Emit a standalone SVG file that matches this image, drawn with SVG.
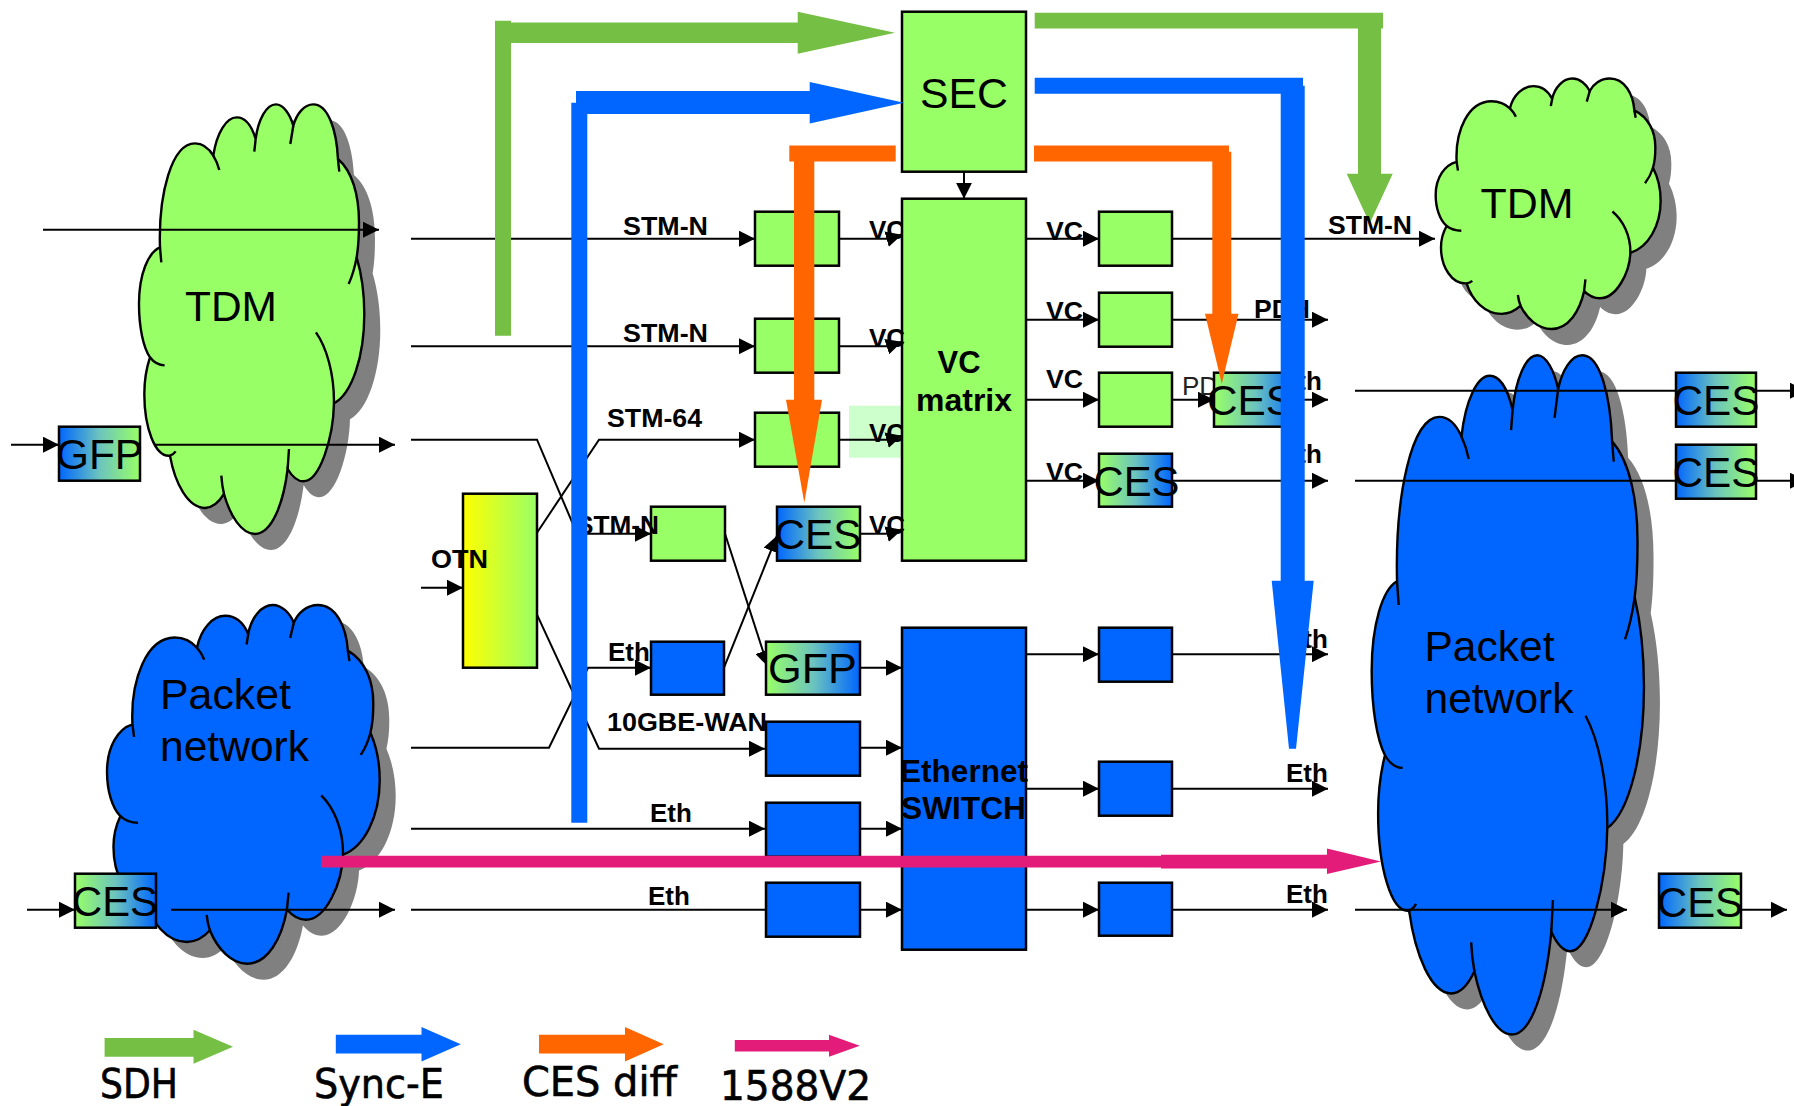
<svg xmlns="http://www.w3.org/2000/svg" width="1794" height="1106" viewBox="0 0 1794 1106">
<style>
text{font-family:"Liberation Sans",Arial,sans-serif;fill:#000}
.big{font-size:42px}
.b{font-size:26px;font-weight:bold}
.sw{font-size:31px;font-weight:bold}
.r{font-size:26px;fill:#222}
.leg{font-family:"DejaVu Sans","Noto Sans",sans-serif;font-size:40px;stroke:#000;stroke-width:.6}
.ln{fill:none;stroke:#000;stroke-width:2}
.a{marker-end:url(#arr)}
.box{stroke:#000;stroke-width:2.5}
.g{fill:#99FF66}
.bl{fill:#0066FF}
.shadow{fill:#808080}
.cl{stroke:#000;stroke-width:2.4}
.sd{fill:#74BF44}
.sy{fill:#0066FF}
.ce{fill:#FF6600}
.pt{fill:#E31C79}
</style>
<defs>
<marker id="arr" markerUnits="userSpaceOnUse" markerWidth="16" markerHeight="16" refX="16" refY="8" orient="auto"><path d="M0,0L16,8L0,16Z" fill="#000"/></marker>
<linearGradient id="bg"><stop offset="0" stop-color="#0066FF"/><stop offset=".5" stop-color="#6CC4BE"/><stop offset="1" stop-color="#99FF66"/></linearGradient>
<linearGradient id="gb"><stop offset="0" stop-color="#99FF66"/><stop offset=".5" stop-color="#6CC4BE"/><stop offset="1" stop-color="#0066FF"/></linearGradient>
<linearGradient id="yg"><stop offset="0" stop-color="#FFFF00"/><stop offset="1" stop-color="#99FF66"/></linearGradient>
<path id="cloud" vector-effect="non-scaling-stroke" d="M480,560C475,400 515,248 585,248C610,248 628,265 640,285C650,215 680,170 710,170C735,170 755,195 767,235C775,175 800,131 828,131C850,131 870,160 880,195C890,160 912,131 940,131C985,131 1010,210 1014,295C1055,330 1078,400 1077,490C1077,530 1075,560 1070,590C1085,640 1093,700 1093,760C1093,890 1055,1000 1002,1028C1000,1130 960,1262 910,1262C890,1262 875,1245 863,1225C850,1330 815,1420 765,1420C725,1420 690,1365 672,1300C655,1328 635,1342 615,1342C565,1342 525,1270 510,1185C465,1190 433,1100 433,1000C433,960 440,920 450,890C430,860 417,800 417,730C417,640 445,575 480,560Z"/>
<path id="folds" vector-effect="non-scaling-stroke" fill="none" d="M480,560L484,605M640,285Q652,305 658,328M767,235L763,273M880,195L871,250M1014,295L1018,333M1070,590Q1062,635 1046,670M948,815C980,860 1003,940 1002,1028M863,1225L867,1165M672,1300Q666,1275 664,1245M510,1185Q520,1182 527,1172M450,890Q468,914 494,914"/>
</defs>
<g transform="translate(0 .7)">
<g id="cloud-tdm-left">
<use href="#cloud" class="shadow" transform="matrix(.3333 0 0 .3333 16 76)"/>
<use href="#cloud" class="g cl" transform="matrix(.3333 0 0 .3333 0 60)"/>
<use href="#folds" class="cl" transform="matrix(.3333 0 0 .3333 0 60)"/>
<text class="big" x="185" y="320.5" textLength="92" lengthAdjust="spacingAndGlyphs">TDM</text>
</g>
<g id="cloud-packet-left">
<use href="#cloud" class="shadow" transform="matrix(.4034 0 0 .2783 -45.2 583.8)"/>
<use href="#cloud" class="bl cl" transform="matrix(.4034 0 0 .2783 -61.2 567.8)"/>
<use href="#folds" class="cl" transform="matrix(.4034 0 0 .2783 -61.2 567.8)"/>
<text class="big" x="160" y="708" textLength="131" lengthAdjust="spacingAndGlyphs">Packet</text>
<text class="big" x="160" y="760" textLength="149" lengthAdjust="spacingAndGlyphs">network</text>
</g>
<g id="cloud-tdm-right">
<use href="#cloud" class="shadow" transform="matrix(.3328 0 0 .1943 1312.9 68.4)"/>
<use href="#cloud" class="g cl" transform="matrix(.3328 0 0 .1943 1296.9 52.4)"/>
<use href="#folds" class="cl" transform="matrix(.3328 0 0 .1943 1296.9 52.4)"/>
<text class="big" x="1480.5" y="217" textLength="93" lengthAdjust="spacingAndGlyphs">TDM</text>
</g>
<g id="cloud-packet-right">
<use href="#cloud" class="shadow" transform="matrix(.4028 0 0 .527 1219.7 301.5)"/>
<use href="#cloud" class="bl cl" transform="matrix(.4028 0 0 .527 1203.7 285.5)"/>
<use href="#folds" class="cl" transform="matrix(.4028 0 0 .527 1203.7 285.5)"/>
<text class="big" x="1424.5" y="660" textLength="130" lengthAdjust="spacingAndGlyphs">Packet</text>
<text class="big" x="1424.5" y="712" textLength="149" lengthAdjust="spacingAndGlyphs">network</text>
</g>

<rect id="highlight" x="849" y="405" width="53" height="52" fill="#CCFFCC"/>

<g id="connectors">
<path class="ln a" d="M43,229H379"/>
<path class="ln a" d="M11,444H59"/>
<path class="ln a" d="M154,444H395"/>
<path class="ln a" d="M27,909H75"/>
<path class="ln a" d="M171,909H395"/>
<path class="ln a" d="M411,238H755"/>
<path class="ln a" d="M411,345.5H755"/>
<path class="ln a" d="M411,439H537L577,533H651"/>
<path class="ln a" d="M537,532L599,439H755"/>
<path class="ln a" d="M537,614L599,748H765"/>
<path class="ln a" d="M411,747H549L588,667H651"/>
<path class="ln a" d="M411,828H765"/>
<path class="ln" d="M411,909H766"/>
<path class="ln a" d="M421,587H463"/>
<path class="ln a" d="M725,533L768,666"/>
<path class="ln a" d="M724,667L777,535"/>
<path class="ln a" d="M964,171V198"/>
<path class="ln a" d="M839,238H888L902,234"/>
<path class="ln a" d="M839,345.5H888L902,341"/>
<path class="ln a" d="M839,439H888L902,435"/>
<path class="ln a" d="M860,533H888L902,529"/>
<path class="ln a" d="M860,667H902"/>
<path class="ln a" d="M860,747H902"/>
<path class="ln a" d="M860,828H902"/>
<path class="ln a" d="M860,909H902"/>
<path class="ln a" d="M1026,238H1099"/>
<path class="ln a" d="M1026,319H1099"/>
<path class="ln a" d="M1026,399H1099"/>
<path class="ln a" d="M1026,480H1099"/>
<path class="ln a" d="M1027,653.5H1099"/>
<path class="ln a" d="M1027,788H1099"/>
<path class="ln a" d="M1027,909H1099"/>
<path class="ln a" d="M1172,238H1435"/>
<path class="ln a" d="M1172,319H1328"/>
<path class="ln a" d="M1172,399H1214"/>
<path class="ln a" d="M1297,399H1328"/>
<path class="ln a" d="M1172,480H1328"/>
<path class="ln a" d="M1172,653.5H1328"/>
<path class="ln a" d="M1172,788H1328"/>
<path class="ln a" d="M1172,909H1328"/>
<path class="ln a" d="M1355,390H1806"/>
<path class="ln a" d="M1355,480H1806"/>
<path class="ln a" d="M1355,909H1627"/>
<path class="ln a" d="M1741,909H1787"/>
</g>

<g id="labels-under">
<text class="b" x="869" y="238">VC</text>
<text class="b" x="869" y="441">VC</text>
<text class="r" x="1182" y="394">PDH</text>
</g>

<g id="node-sec"><rect class="box g" x="902" y="11" width="124" height="160"/>
<text class="big" x="920" y="107" textLength="88" lengthAdjust="spacingAndGlyphs">SEC</text></g>
<g id="node-vc-matrix"><rect class="box g" x="902" y="198" width="124" height="362"/>
<text class="sw" x="959" y="372.5" text-anchor="middle">VC</text>
<text class="sw" x="964" y="410.5" text-anchor="middle" textLength="96" lengthAdjust="spacingAndGlyphs">matrix</text></g>
<g id="node-switch"><rect class="box bl" x="902" y="627" width="124" height="322"/>
<text class="sw" x="900" y="781" textLength="128" lengthAdjust="spacingAndGlyphs">Ethernet</text>
<text class="sw" x="901" y="818" textLength="125" lengthAdjust="spacingAndGlyphs">SWITCH</text></g>
<g id="node-otn"><rect class="box" fill="url(#yg)" x="463" y="493" width="74" height="174"/></g>

<g id="node-in1"><rect class="box g" x="755" y="211" width="84" height="54"/></g>
<g id="node-in2"><rect class="box g" x="755" y="318" width="84" height="54"/></g>
<g id="node-in3"><rect class="box g" x="755" y="412" width="84" height="54"/></g>
<g id="node-in4"><rect class="box g" x="651" y="506" width="74" height="54"/></g>
<g id="node-ces-in"><rect class="box" fill="url(#bg)" x="777" y="506" width="83" height="54"/>
<text class="big" x="774.5" y="548" textLength="87" lengthAdjust="spacingAndGlyphs">CES</text></g>
<g id="node-eth-in"><rect class="box bl" x="651" y="641" width="73" height="53"/></g>
<g id="node-gfp-in"><rect class="box" fill="url(#gb)" x="766" y="641" width="94" height="53"/>
<text class="big" x="768" y="682" textLength="89" lengthAdjust="spacingAndGlyphs">GFP</text></g>
<g id="node-wan"><rect class="box bl" x="766" y="721" width="94" height="54"/></g>
<g id="node-eth2"><rect class="box bl" x="766" y="802" width="94" height="54"/></g>
<g id="node-eth3"><rect class="box bl" x="766" y="882" width="94" height="54"/></g>

<g id="node-out1"><rect class="box g" x="1099" y="211" width="73" height="54"/></g>
<g id="node-out2"><rect class="box g" x="1099" y="292" width="73" height="54"/></g>
<g id="node-out3"><rect class="box g" x="1099" y="372" width="73" height="54"/></g>
<g id="node-out4"><rect class="box" fill="url(#gb)" x="1099" y="453" width="73" height="53"/>
<text class="big" x="1093.5" y="495" textLength="86" lengthAdjust="spacingAndGlyphs">CES</text></g>
<g id="node-out5"><rect class="box bl" x="1099" y="627" width="73" height="54"/></g>
<g id="node-out6"><rect class="box bl" x="1099" y="761" width="73" height="54"/></g>
<g id="node-out7"><rect class="box bl" x="1099" y="882" width="73" height="53"/></g>
<g id="node-ces-mid"><rect class="box" fill="url(#gb)" x="1214" y="372" width="83" height="54"/>
<text class="big" x="1207" y="414" textLength="87" lengthAdjust="spacingAndGlyphs">CES</text></g>

<g id="node-gfp-left"><rect class="box" fill="url(#bg)" x="59" y="426" width="81" height="54"/>
<text class="big" x="56" y="468" textLength="87" lengthAdjust="spacingAndGlyphs">GFP</text></g>
<g id="node-ces-left"><rect class="box" fill="url(#gb)" x="75" y="873" width="81" height="54"/>
<text class="big" x="72" y="915" textLength="86" lengthAdjust="spacingAndGlyphs">CES</text></g>
<g id="node-ces-r1"><rect class="box" fill="url(#bg)" x="1676" y="372" width="80" height="54"/>
<text class="big" x="1672.5" y="414" textLength="87" lengthAdjust="spacingAndGlyphs">CES</text></g>
<g id="node-ces-r2"><rect class="box" fill="url(#bg)" x="1676" y="444" width="80" height="54"/>
<text class="big" x="1672.5" y="486" textLength="87" lengthAdjust="spacingAndGlyphs">CES</text></g>
<g id="node-ces-r3"><rect class="box" fill="url(#bg)" x="1659" y="873" width="82" height="54"/>
<text class="big" x="1657" y="916" textLength="86" lengthAdjust="spacingAndGlyphs">CES</text></g>

<g id="labels">
<text class="b" x="623" y="234" textLength="85" lengthAdjust="spacingAndGlyphs">STM-N</text>
<text class="b" x="623" y="341" textLength="85" lengthAdjust="spacingAndGlyphs">STM-N</text>
<text class="b" x="607" y="426" textLength="95" lengthAdjust="spacingAndGlyphs">STM-64</text>
<text class="b" x="576" y="533" textLength="83" lengthAdjust="spacingAndGlyphs">STM-N</text>
<text class="b" x="431" y="567" textLength="57" lengthAdjust="spacingAndGlyphs">OTN</text>
<text class="b" x="869" y="346">VC</text>
<text class="b" x="869" y="533">VC</text>
<text class="b" x="1046" y="239" textLength="37" lengthAdjust="spacingAndGlyphs">VC</text>
<text class="b" x="1046" y="319" textLength="37" lengthAdjust="spacingAndGlyphs">VC</text>
<text class="b" x="1046" y="387" textLength="37" lengthAdjust="spacingAndGlyphs">VC</text>
<text class="b" x="1046" y="480" textLength="37" lengthAdjust="spacingAndGlyphs">VC</text>
<text class="b" x="1254" y="317" textLength="56" lengthAdjust="spacingAndGlyphs">PDH</text>
<text class="b" x="1280" y="389">Eth</text>
<text class="b" x="1280" y="462">Eth</text>
<text class="b" x="1286" y="647">Eth</text>
<text class="b" x="1286" y="781">Eth</text>
<text class="b" x="1286" y="902">Eth</text>
<text class="b" x="608" y="660">Eth</text>
<text class="b" x="607" y="730" textLength="160" lengthAdjust="spacingAndGlyphs">10GBE-WAN</text>
<text class="b" x="650" y="821.5">Eth</text>
<text class="b" x="648" y="904.5">Eth</text>
</g>

<g id="sync-connectors">
<path class="sd" d="M495,20H511V21.7H797.7V11L895,32L797.7,53V42.3H511V335H495Z"/>
<path class="sd" d="M1034.7,12H1383V27.7H1381V173H1392.7L1369.7,222.7L1346.7,173H1358V27.7H1034.7Z"/>
<path class="sy" d="M576,90.3H809.7V81.3L904,102L809.7,122.7V113.3H587.3V822H571.3V102H576Z"/>
<path class="sy" d="M1034.7,77H1303V85H1304.7V580H1313.7L1296,748H1289L1271.7,580H1280.7V93H1034.7Z"/>
<path class="ce" d="M789.3,144.7H895.7V160.7H814.3V399H822L804.3,502L786,399H794V160.7H789.3Z"/>
<path class="ce" d="M1034,144.7H1229V151H1231.3V313H1238.5L1221.8,383L1205,313H1212.3V160.7H1034Z"/>
<path class="pt" d="M321,855H1161V854H1327V847.7L1381,860.7L1327,873.4V867.7H1161V866.7H321Z"/>
</g>
<text class="b" x="1328" y="233" textLength="84" lengthAdjust="spacingAndGlyphs">STM-N</text>

<g id="legend">
<path class="sd" d="M104.6,1037.3H193.5V1029L233,1046L193.5,1063V1056H104.6Z"/>
<path class="sy" d="M335.8,1034H421.5V1026.3L460.8,1043.5L421.5,1060.7V1052.7H335.8Z"/>
<path class="ce" d="M539,1034H625V1026.3L663.7,1043.5L625,1060.7V1052.7H539Z"/>
<path class="pt" d="M734.8,1039.3H829V1034L859.8,1045L829,1056V1050.7H734.8Z"/>
<text class="leg" x="100" y="1097" textLength="78" lengthAdjust="spacingAndGlyphs">SDH</text>
<text class="leg" x="314" y="1097" textLength="130" lengthAdjust="spacingAndGlyphs">Sync-E</text>
<text class="leg" x="522" y="1095" textLength="155" lengthAdjust="spacingAndGlyphs">CES diff</text>
<text class="leg" x="720" y="1099" textLength="151" lengthAdjust="spacingAndGlyphs">1588V2</text>
</g>
</g>
</svg>
